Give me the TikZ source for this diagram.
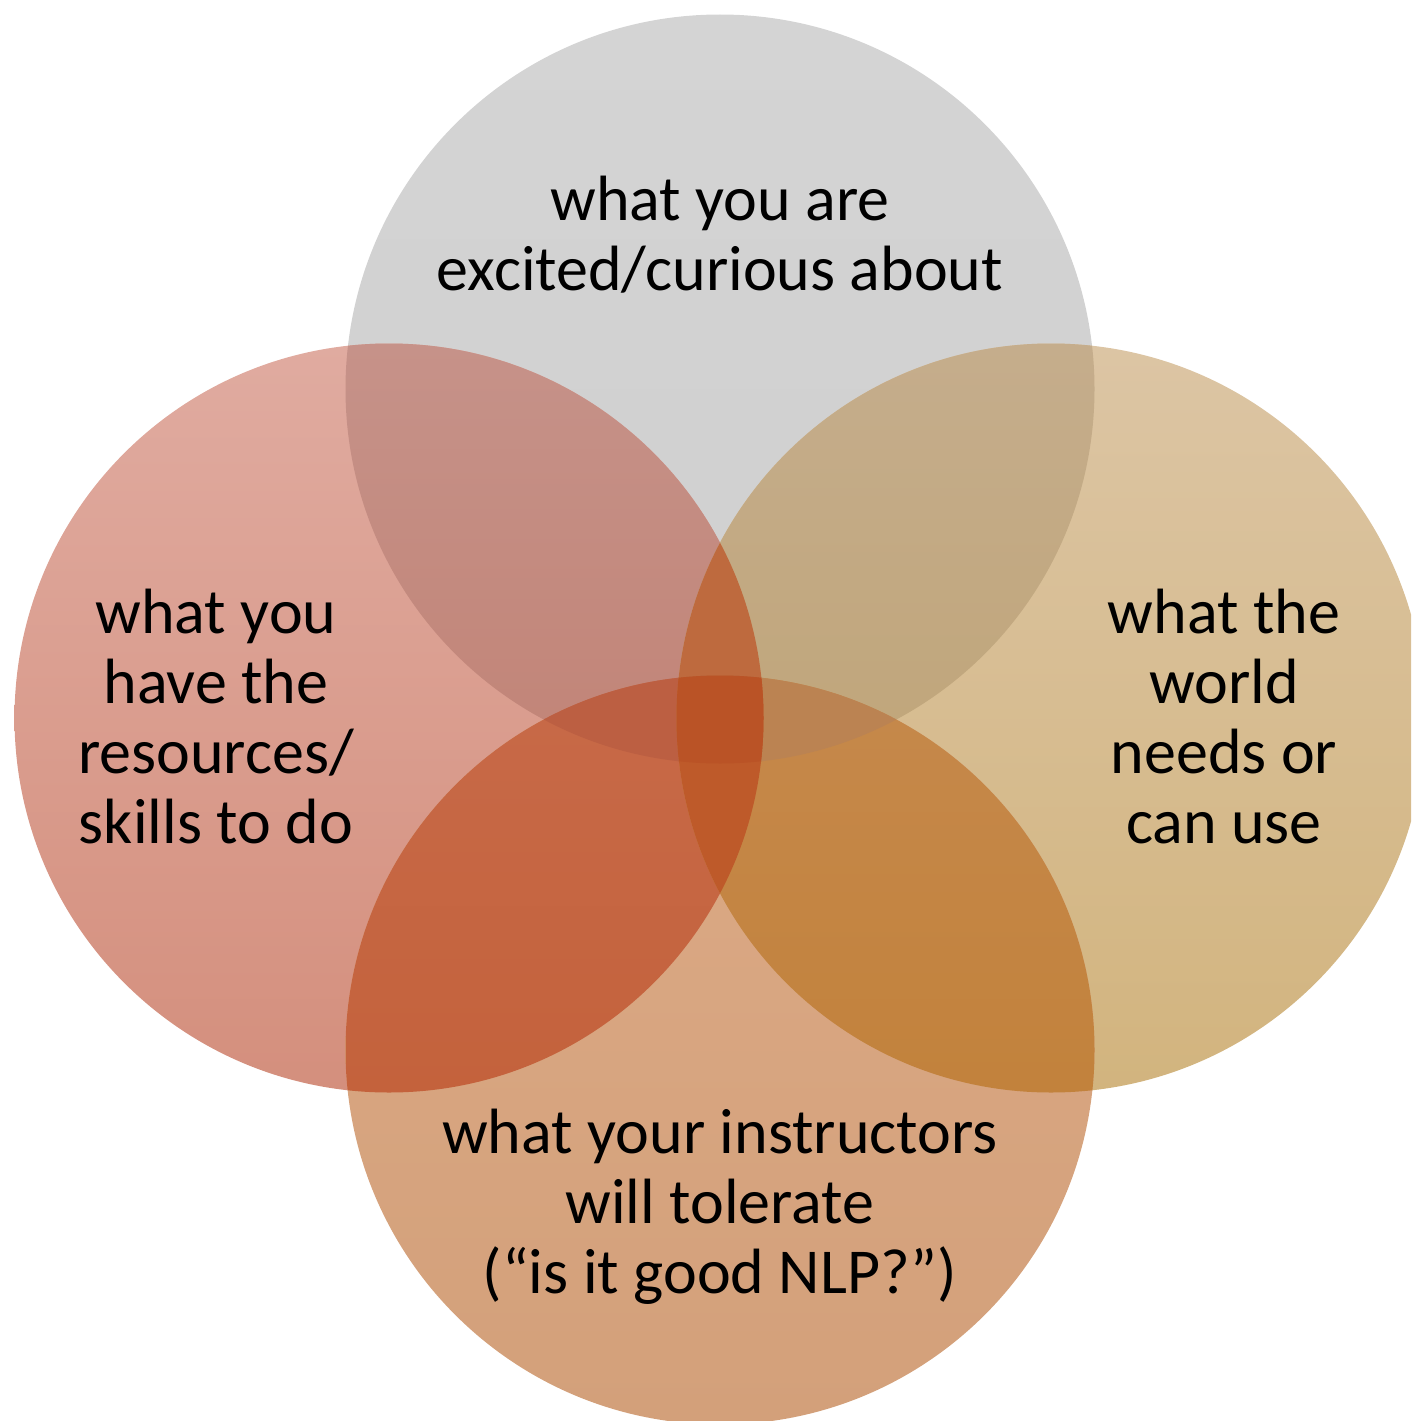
\documentclass[tikz,border=0pt]{standalone}
\usepackage{fontspec}
\setmainfont{Carlito}
\definecolor{gT1}{RGB}{212,212,212}\definecolor{gT2}{RGB}{207,207,207}
\definecolor{cL1}{RGB}{224,171,160}\definecolor{cL2}{RGB}{212,143,125}
\definecolor{cR1}{RGB}{220,197,164}\definecolor{cR2}{RGB}{210,180,126}
\definecolor{cB1}{RGB}{220,170,134}\definecolor{cB2}{RGB}{211,160,122}
\definecolor{pLT1}{RGB}{198,146,137}\definecolor{pLT2}{RGB}{190,121,105}
\definecolor{pTR1}{RGB}{197,173,140}\definecolor{pTR2}{RGB}{188,160,108}
\definecolor{pLB1}{RGB}{202,112,82}\definecolor{pLB2}{RGB}{196,98,60}
\definecolor{pRB1}{RGB}{201,142,88}\definecolor{pRB2}{RGB}{194,130,60}
\definecolor{tTLR}{RGB}{190,106,62}
\definecolor{tLRB}{RGB}{190,90,42}
\definecolor{tTLB}{RGB}{188,95,66}
\definecolor{tTRB}{RGB}{187,131,82}
\definecolor{qAll}{RGB}{186,83,38}
\def\venrad{374.5pt}
\begin{document}
\begin{tikzpicture}[x=1pt,y=-1pt,
  lab/.style={align=center, font=\fontsize{64}{70}\selectfont, inner sep=0pt, text=black}]
\useasboundingbox (0,0) rectangle (1411,1421);
\clip (0,0) rectangle (1411,1421);
\coordinate (T) at (720,389);
\coordinate (L) at (389,718);
\coordinate (R) at (1051,718);
\coordinate (B) at (720,1050);
% single circles
\shade[top color=gT1, bottom color=gT2] (T) circle (\venrad);
\shade[top color=cL1, bottom color=cL2] (L) circle (\venrad);
\shade[top color=cR1, bottom color=cR2] (R) circle (\venrad);
\shade[top color=cB1, bottom color=cB2] (B) circle (\venrad);
% pairs
\begin{scope}\clip (T) circle (\venrad);
  \shade[top color=pLT1, bottom color=pLT2] (L) circle (\venrad);
  \shade[top color=pTR1, bottom color=pTR2] (R) circle (\venrad);
\end{scope}
\begin{scope}\clip (B) circle (\venrad);
  \shade[top color=pLB1, bottom color=pLB2] (L) circle (\venrad);
  \shade[top color=pRB1, bottom color=pRB2] (R) circle (\venrad);
\end{scope}
% triples
\begin{scope}\clip (T) circle (\venrad);\clip (L) circle (\venrad);
  \fill[tTLR] (R) circle (\venrad);
  \fill[tTLB] (B) circle (\venrad);
\end{scope}
\begin{scope}\clip (T) circle (\venrad);\clip (R) circle (\venrad);
  \fill[tTRB] (B) circle (\venrad);
\end{scope}
\begin{scope}\clip (L) circle (\venrad);\clip (R) circle (\venrad);
  \fill[tLRB] (B) circle (\venrad);
\end{scope}
% all four
\begin{scope}\clip (T) circle (\venrad);\clip (L) circle (\venrad);\clip (R) circle (\venrad);
  \fill[qAll] (B) circle (\venrad);
\end{scope}
% labels
\node[lab] (tT) at (720,235) {what you are\\excited/curious about};
\node[lab] (tL) at (216,717) {what you\\have the\\resources/\\skills to do};
\node[lab] (tR) at (1224,717) {what the\\world\\needs or\\can use};
\node[lab] (tB) at (720,1207) {what your instructors\\will tolerate\\(“is it good NLP?”)};
\end{tikzpicture}
\end{document}
